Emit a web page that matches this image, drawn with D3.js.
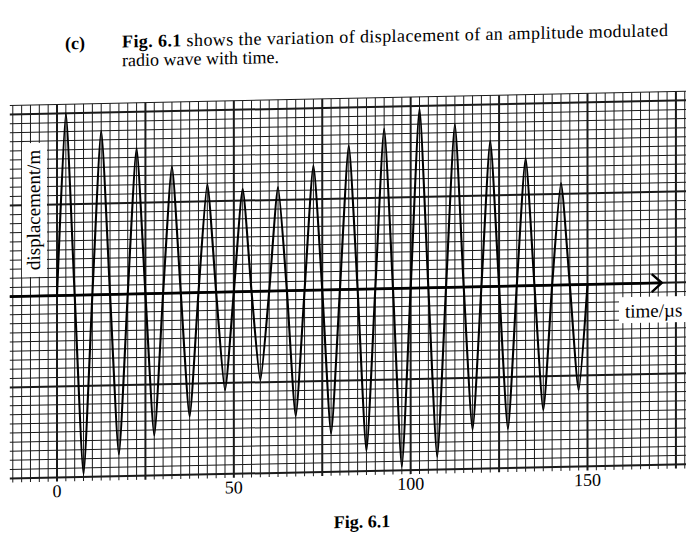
<!DOCTYPE html>
<html lang="en">
<head>
<meta charset="UTF-8" />
<title>Fig. 6.1</title>
<script src="https://d3js.org/d3.v7.min.js"></script>
<style>
  body { margin: 0; padding: 0; background: white; }
  svg { display: block; font-family: "Liberation Serif", "Times New Roman", serif; }
</style>
</head>
<body>
<svg id="fig" width="686" height="546"></svg>
<script>
// one peak and one trough per carrier cycle in grid squares
const period = 10; // µs
const peaks   = [20, 18, 16, 13.9, 11.9, 11.3, 11.4, 13.7, 15.8, 17.6, 19.7, 17.9, 16, 14, 11.2];
const troughs = [-19.7, -17.6, -15.6, -13.6, -10.8, -9.8, -13.8, -15.8, -17.8, -19.6, -18.6, -15.7, -15.7, -13.7, -11.6];
const timeTicks = [0, 50, 100, 150];

const W = 686, H = 546;
const svg = d3.select("#fig");

// the scanned page is slightly tilted, so everything sits in a skewed group
const skew = -1.2;
const k = Math.tan(skew * Math.PI / 180);
const page = svg.append("g")
  .attr("transform", `translate(0,${-k * 350}) skewY(${skew})`);

const x = d3.scaleLinear().domain([0, 150]).range([57, 587.5]);
const y = d3.scaleLinear().domain([0, 20]).range([289.4, 289.4 - 20 * 9.1]);

// graph paper: small square = 2.5 µs, bold every 10 squares
const step = 2.5;
const cols = d3.range(-5, 76);   // square index along time
const rows = d3.range(-20, 22);  // square index along displacement
const left = x(-5 * step) - 3;

const grid = page.append("g");
function drawGrid(bold) {
  grid.append("g").selectAll("line")
    .data(cols.filter(i => (i % 10 === 0) === bold))
    .join("line")
    .attr("x1", i => x(i * step)).attr("x2", i => x(i * step))
    .attr("y1", y(21)).attr("y2", y(-20) + 4)
    .attr("stroke", "#1a1a1a")
    .attr("stroke-width", bold ? 2 : 1);

  grid.append("g").selectAll("line")
    .data(rows.filter(j => (j % 10 === 0) === bold))
    .join("line")
    .attr("x1", left).attr("x2", W + 20)
    .attr("y1", j => y(j)).attr("y2", j => y(j))
    .attr("stroke", "#1a1a1a")
    .attr("stroke-width", bold ? 2 : 1);
}
drawGrid(false);
drawGrid(true);

// white patches behind the axis labels
page.append("rect")
  .attr("x", 22).attr("y", 136.5).attr("width", 25).attr("height", 134)
  .attr("fill", "white");
page.append("rect")
  .attr("x", 619).attr("y", 303).attr("width", 90).attr("height", 26)
  .attr("fill", "white");

// time axis with open arrow head
const tip = x(171);
page.append("line")
  .attr("x1", left).attr("x2", tip)
  .attr("y1", y(0)).attr("y2", y(0))
  .attr("stroke", "black").attr("stroke-width", 2.8);
page.append("path")
  .attr("d", `M${tip - 10},${y(0) - 9}L${tip},${y(0)}L${tip - 10},${y(0) + 9}`)
  .attr("fill", "none").attr("stroke", "black").attr("stroke-width", 2.4);

// waveform: zero, peak, zero, trough, zero for each cycle
const pts = [[0, 0]];
peaks.forEach((p, i) => {
  const t0 = i * period;
  pts.push([t0 + period / 4, p], [t0 + period / 2, 0],
           [t0 + 3 * period / 4, troughs[i]], [t0 + period, 0]);
});
// fairly tight cardinal spline: almost straight flanks, narrow rounded tips
const line = d3.line()
  .x(d => x(d[0]))
  .y(d => y(d[1]))
  .curve(d3.curveCardinal.tension(0.45));
page.append("path")
  .datum(pts)
  .attr("d", line)
  .attr("fill", "none")
  .attr("stroke", "black")
  .attr("stroke-width", 2.1)
  .attr("stroke-linejoin", "round");

// tick labels
page.append("g").selectAll("text")
  .data(timeTicks)
  .join("text")
  .attr("x", d => x(d))
  .attr("y", 491)
  .attr("text-anchor", "middle")
  .style("font-size", "18px")
  .text(d => d);

page.append("text")
  .attr("transform", "translate(40,203.4) rotate(-90)")
  .attr("text-anchor", "middle")
  .style("font-size", "19px")
  .text("displacement/m");

page.append("text")
  .attr("x", 625).attr("y", 323.4)
  .style("font-size", "19px")
  .text("time/µs");

// question text
page.append("text")
  .attr("x", 65).attr("y", 43.3)
  .style("font-size", "18px").style("font-weight", "bold")
  .text("(c)");

const l1 = page.append("text")
  .attr("x", 122).attr("y", 42.8)
  .attr("textLength", 546).attr("lengthAdjust", "spacing")
  .style("font-size", "18px");
l1.append("tspan").style("font-weight", "bold").text("Fig. 6.1");
l1.append("tspan").text(" shows the variation of displacement of an amplitude modulated");

page.append("text")
  .attr("x", 122).attr("y", 61.5)
  .style("font-size", "18px")
  .text("radio wave with time.");

page.append("text")
  .attr("x", 362).attr("y", 528)
  .attr("text-anchor", "middle")
  .style("font-size", "18px").style("font-weight", "bold")
  .text("Fig. 6.1");
</script>
</body>
</html>
